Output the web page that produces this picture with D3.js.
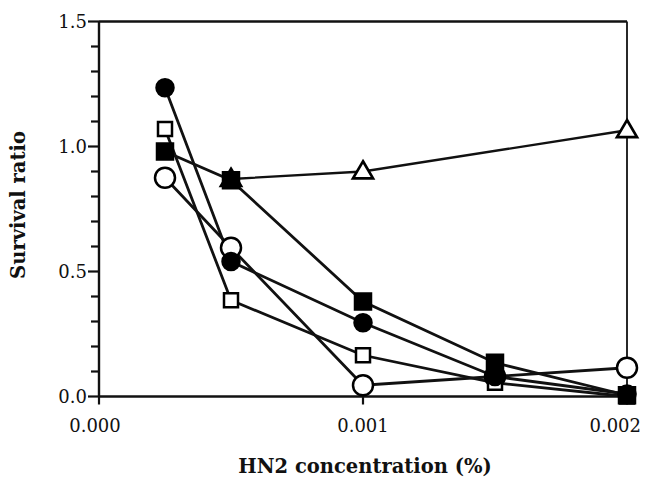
<!DOCTYPE html>
<html lang="en">
<head>
    <meta charset="UTF-8">
    <title>Survival ratio vs HN2</title>
    <style>
        body { margin: 0; background: #fff; }
        svg { display: block; }
        .tick-label { font-family: "DejaVu Serif", serif; font-size: 18px; fill: #111; }
        .axis-title { font-family: "DejaVu Serif", serif; font-size: 19.5px; font-weight: bold; fill: #111; }
    </style>
</head>
<body>
    <script src="https://d3js.org/d3.v7.min.js"></script>
    <script>
        const width = 651;
        const height = 484;

        // concentrations (%)
        const conc = [0.00025, 0.0005, 0.001, 0.0015, 0.002];
        const filledCircle = [1.235, 0.54, 0.295, 0.08, 0.01];
        const openSquare = [1.07, 0.385, 0.165, 0.055, 0.0];
        const filledSquare = [0.98, 0.865, 0.38, 0.135, 0.005];
        const openCircle = [0.875, 0.595, 0.045, 0.08, 0.115];
        const triConc = [0.0005, 0.001, 0.002];
        const openTriangle = [0.87, 0.9, 1.065];

        const xTicks = [0, 0.001, 0.002];
        const xTickLabels = ["0.000", "0.001", "0.002"];
        const yTicks = [0, 0.5, 1.0, 1.5];
        const yMinor = d3.range(0, 1.51, 0.1);

        const margin = { left: 99, right: 24, top: 21.5, bottom: 87.5 };

        const x = d3.scaleLinear().domain([0, 0.002]).range([margin.left, width - margin.right]);
        const y = d3.scaleLinear().domain([0, 1.5]).range([height - margin.bottom, margin.top]);

        const svg = d3.select("body").append("svg")
            .attr("width", width)
            .attr("height", height);

        // frame: left, bottom, top, right
        const frame = svg.append("g").attr("stroke", "#111").attr("stroke-width", 2.4).attr("fill", "none");
        frame.append("line").attr("x1", x(0)).attr("x2", x(0)).attr("y1", y(0)).attr("y2", y(1.5));
        frame.append("line").attr("x1", x(0)).attr("x2", x(0.002)).attr("y1", y(0)).attr("y2", y(0));
        frame.append("line").attr("x1", x(0)).attr("x2", x(0.002)).attr("y1", y(1.5)).attr("y2", y(1.5));
        frame.append("line").attr("x1", x(0.002)).attr("x2", x(0.002)).attr("y1", y(0)).attr("y2", y(1.5)).attr("stroke-width", 1.8);

        // y ticks
        svg.append("g").selectAll("line")
            .data(yMinor)
            .enter().append("line")
            .attr("x1", x(0))
            .attr("x2", d => yTicks.some(t => Math.abs(t - d) < 1e-6) ? x(0) - 11 : x(0) - 8)
            .attr("y1", d => y(d))
            .attr("y2", d => y(d))
            .attr("stroke", "#111")
            .attr("stroke-width", 2.2);

        svg.append("g").selectAll("text")
            .data(yTicks)
            .enter().append("text")
            .attr("class", "tick-label")
            .attr("x", x(0) - 12)
            .attr("y", d => y(d))
            .attr("dy", "0.35em")
            .attr("text-anchor", "end")
            .text(d => d.toFixed(1));

        // x ticks
        svg.append("g").selectAll("line")
            .data(xTicks)
            .enter().append("line")
            .attr("x1", d => x(d))
            .attr("x2", d => x(d))
            .attr("y1", y(0))
            .attr("y2", y(0) + 8)
            .attr("stroke", "#111")
            .attr("stroke-width", 2.2);

        // last label is pulled in so it stays inside the page
        svg.append("g").selectAll("text")
            .data(xTicks)
            .enter().append("text")
            .attr("class", "tick-label")
            .attr("x", (d, i) => i === xTicks.length - 1 ? width - 10 : x(d) - (i === 0 ? 4 : 0))
            .attr("y", y(0) + 35)
            .attr("text-anchor", (d, i) => i === xTicks.length - 1 ? "end" : "middle")
            .text((d, i) => xTickLabels[i]);

        // axis titles
        svg.append("text")
            .attr("class", "axis-title")
            .attr("x", 365)
            .attr("y", 473)
            .attr("text-anchor", "middle")
            .text("HN2 concentration (%)");

        svg.append("text")
            .attr("class", "axis-title")
            .attr("transform", "translate(25,205) rotate(-90)")
            .attr("text-anchor", "middle")
            .text("Survival ratio");

        const line = d3.line().x(d => x(d[0])).y(d => y(d[1]));

        const series = [
            { xs: triConc, ys: openTriangle, shape: "triangle", fill: "#fff", size: 20, lw: 2.3 },
            { xs: conc, ys: openCircle, shape: "circle", fill: "#fff", size: 10, lw: 2.8 },
            { xs: conc, ys: openSquare, shape: "square", fill: "#fff", size: 14, lw: 2.8 },
            { xs: conc, ys: filledCircle, shape: "circle", fill: "#000", size: 8.5, lw: 2.8 },
            { xs: conc, ys: filledSquare, shape: "square", fill: "#000", size: 16, lw: 2.8 }
        ];

        // lines first
        series.forEach(s => {
            const pts = s.xs.map((c, i) => [c, s.ys[i]]);
            svg.append("path")
                .datum(pts)
                .attr("d", line)
                .attr("fill", "none")
                .attr("stroke", "#111")
                .attr("stroke-width", s.lw);
        });

        // then markers
        series.forEach(s => {
            const pts = s.xs.map((c, i) => [c, s.ys[i]]);
            const g = svg.append("g");
            if (s.shape === "circle") {
                g.selectAll("circle").data(pts).enter().append("circle")
                    .attr("cx", d => x(d[0])).attr("cy", d => y(d[1]))
                    .attr("r", s.size)
                    .attr("fill", s.fill).attr("stroke", "#000").attr("stroke-width", 2.5);
            } else if (s.shape === "square") {
                g.selectAll("rect").data(pts).enter().append("rect")
                    .attr("x", d => x(d[0]) - s.size / 2).attr("y", d => y(d[1]) - s.size / 2)
                    .attr("width", s.size).attr("height", s.size)
                    .attr("fill", s.fill).attr("stroke", "#000").attr("stroke-width", 2.5);
            } else {
                const h = s.size * 0.85;
                g.selectAll("path").data(pts).enter().append("path")
                    .attr("d", d => {
                        const cx = x(d[0]), cy = y(d[1]);
                        return `M${cx},${cy - h * 0.6} L${cx + s.size / 2},${cy + h * 0.4} L${cx - s.size / 2},${cy + h * 0.4} Z`;
                    })
                    .attr("fill", (d, i) => i === 0 ? "#000" : s.fill)
                    .attr("stroke", "#000").attr("stroke-width", 2.7);
            }
        });
    </script>
</body>
</html>
